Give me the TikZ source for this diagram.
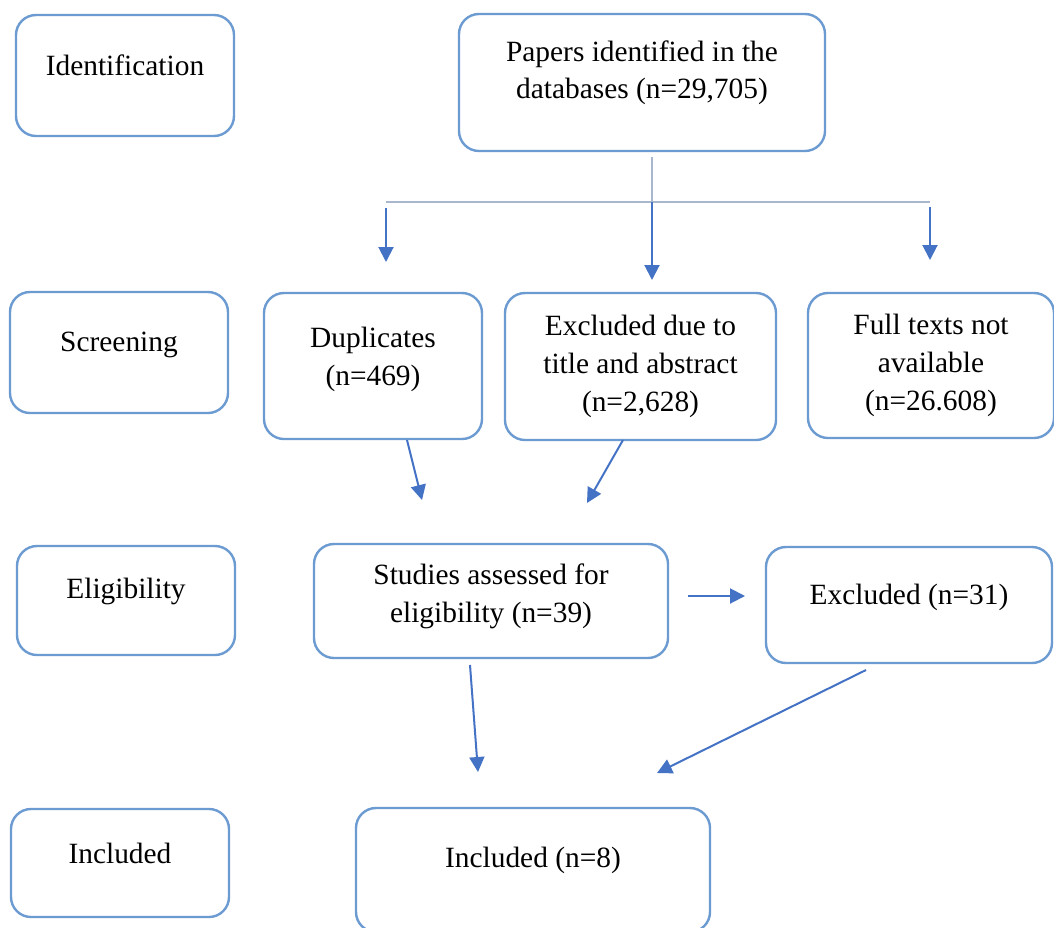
\documentclass[tikz,border=0pt]{standalone}
\usepackage{fontspec}
\setmainfont{Liberation Serif}
\usetikzlibrary{arrows.meta}
\definecolor{boxblue}{HTML}{6C9BD2}
\definecolor{arrowblue}{HTML}{4472C4}
\definecolor{linegrey}{HTML}{A9B7CC}
\tikzset{
  stagebox/.style={draw=boxblue, line width=1.2pt, rounded corners=10pt,
    align=center, inner sep=0pt, font=\fontsize{14.7}{18.8}\selectfont},
  flow/.style={draw=arrowblue, line width=1pt, -{Triangle[length=7.5pt,width=7.5pt]}},
  branch/.style={draw=linegrey, line width=1pt},
}
\begin{document}
\begin{tikzpicture}[x=0.5pt,y=-0.5pt]
\useasboundingbox (0,0) rectangle (1054,927);
\clip (0,0) rectangle (1054,927);
% stage labels
\node[stagebox, minimum width=109pt, minimum height=60.5pt, text depth=10pt] (ident) at (125,75.5) {Identification};
\node[stagebox, minimum width=109pt, minimum height=60.5pt, text depth=11pt] (screen) at (119,352.5) {Screening};
\node[stagebox, minimum width=109pt, minimum height=54.5pt, text depth=12pt] (elig) at (126,600.5) {Eligibility};
\node[stagebox, minimum width=109pt, minimum height=54pt, text depth=10pt] (incl) at (120,863) {Included};
% flow boxes
\node[stagebox, minimum width=183pt, minimum height=68.5pt, text depth=13pt] (papers) at (642,82.5) {Papers identified in the\\databases (n=29,705)};
\node[stagebox, minimum width=109pt, minimum height=73pt, text depth=10pt] (dup) at (373,366) {Duplicates\\(n=469)};
\node[stagebox, minimum width=135.5pt, minimum height=73.5pt] (title) at (640.5,366.5) {Excluded due to\\title and abstract\\(n=2,628)};
\node[stagebox, minimum width=123pt, minimum height=72.5pt] (full) at (931,365.5) {Full texts not\\available\\(n=26.608)};
\node[stagebox, minimum width=177pt, minimum height=57pt, text depth=8pt] (studies) at (491,601) {Studies assessed for\\eligibility (n=39)};
\node[stagebox, minimum width=143pt, minimum height=58pt, text depth=10.5pt] (excl) at (909,605) {Excluded (n=31)};
\node[stagebox, minimum width=177pt, minimum height=62pt, text depth=12.5pt] (final) at (533,870) {Included (n=8)};
% branch points
\coordinate (stem) at (652,157);
\coordinate (split) at (652,202);
\coordinate (splitL) at (386,202);
\coordinate (splitR) at (930,202);
\coordinate (toDupS) at (386,208);   \coordinate (toDup) at (386,262);
\coordinate (toTitle) at (652,280);
\coordinate (toFullS) at (930,207);  \coordinate (toFull) at (930,260);
\coordinate (dupS) at (407,440);     \coordinate (mergeA) at (422,500);
\coordinate (titleS) at (623,440);   \coordinate (mergeB) at (587,503);
\coordinate (studE) at (688,596);    \coordinate (toExcl) at (745,596);
\coordinate (studS) at (470,665);    \coordinate (toFinA) at (478,772);
\coordinate (exclS) at (866,670);    \coordinate (toFinB) at (657,773);
% connectors
\draw[branch] (stem) -- (split);
\draw[branch] (splitL) -- (splitR);
\draw[flow] (toDupS) -- (toDup);
\draw[flow] (split) -- (toTitle);
\draw[flow] (toFullS) -- (toFull);
\draw[flow] (dupS) -- (mergeA);
\draw[flow] (titleS) -- (mergeB);
\draw[flow] (studE) -- (toExcl);
\draw[flow] (studS) -- (toFinA);
\draw[flow] (exclS) -- (toFinB);
\end{tikzpicture}
\end{document}
